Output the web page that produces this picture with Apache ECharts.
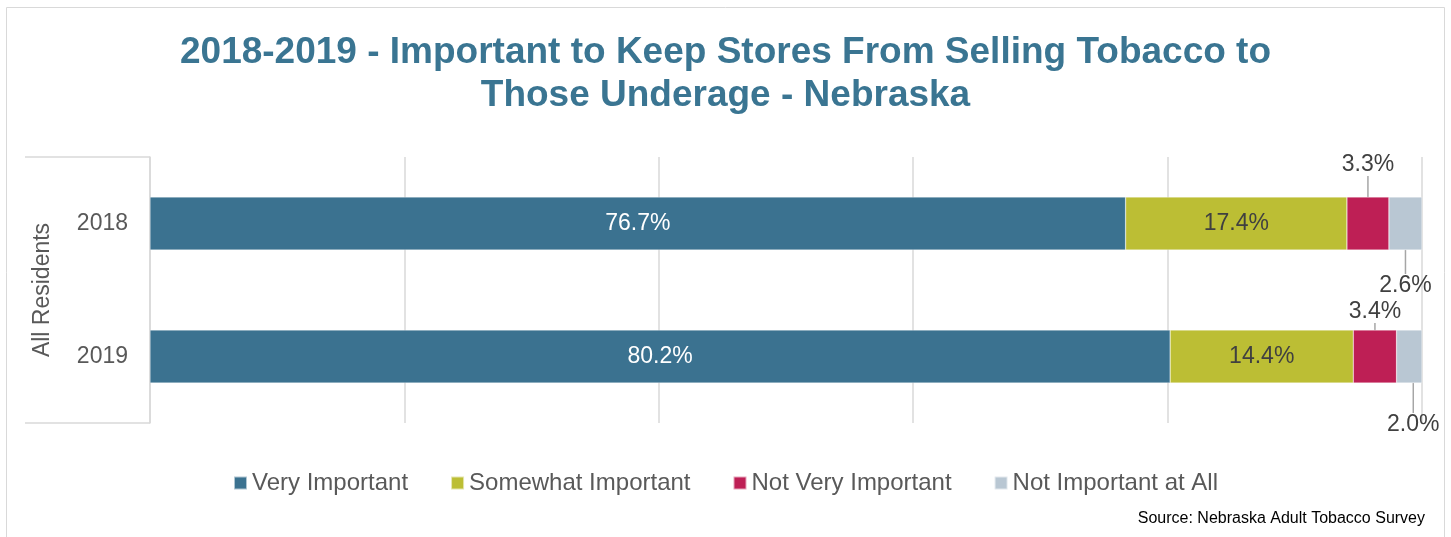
<!DOCTYPE html>
<html>
<head>
<meta charset="utf-8">
<script src="https://cdn.jsdelivr.net/npm/echarts@6/dist/echarts.min.js"></script>
<style>html,body{margin:0;padding:0;background:#fff}#c{width:1451px;height:537px}</style>
</head>
<body>
<div id="c"></div>
<script>
const years = ['2018', '2019'];
const groupLabel = ['All Residents'];
const seriesNames = ['Very Important', 'Somewhat Important', 'Not Very Important', 'Not Important at All'];
const veryImportant = [76.7, 80.2];
const somewhatImportant = [17.4, 14.4];
const notVeryImportant = [3.3, 3.4];
const notImportantAtAll = [2.6, 2.0];
const colors = ['#3b7290', '#bcbe34', '#be1f55', '#b9c7d3'];

const FONT = 'Liberation Sans, Arial, sans-serif';
const chart = echarts.init(document.getElementById('c'));

function baseSeries(name, data, color, labelColor) {
  return {
    name: name, type: 'bar', stack: 'total', yAxisIndex: 0, data: data,
    barWidth: 53,
    itemStyle: { color: color, borderColor: 'rgba(255,255,255,0.6)', borderWidth: 0.5 },
    label: {
      show: true, position: 'inside', color: labelColor,
      fontFamily: FONT, fontSize: 23,
      formatter: p => p.value.toFixed(1) + '%'
    }
  };
}

const s3 = baseSeries(seriesNames[2], notVeryImportant, colors[2], '#404040');
s3.labelLine = { show: true, lineStyle: { color: '#a6a6a6', width: 1.5 } };
s3.labelLayout = p => (p.dataIndex === 0 ? { dy: -59 } : { dy: -45 });
const s4 = baseSeries(seriesNames[3], notImportantAtAll, colors[3], '#404040');
s4.labelLine = { show: true, lineStyle: { color: '#a6a6a6', width: 1.5 } };
s4.labelLayout = p => (p.dataIndex === 0 ? { dy: 62 } : { dy: 68, dx: 4 });

chart.setOption({
  animation: false,
  color: colors,
  title: {
    text: '2018-2019 - Important to Keep Stores From Selling Tobacco to\nThose Underage - Nebraska',
    left: 'center', top: 26,
    textStyle: { fontFamily: FONT, fontSize: 37, fontWeight: 'bold', color: '#3a7592', lineHeight: 43 }
  },
  graphic: [
    { type: 'rect', silent: true, shape: { x: 6.5, y: 7.5, width: 1438, height: 540 },
      style: { fill: 'none', stroke: '#d9d9d9', lineWidth: 1 } },
    { type: 'text', right: 26, top: 511,
      style: { text: 'Source: Nebraska Adult Tobacco Survey', font: '16px ' + FONT, fill: '#000' } }
  ],
  legend: {
    top: 466, left: 'center',
    icon: 'rect', itemWidth: 13, itemHeight: 13, itemGap: 42,
    textStyle: { fontFamily: FONT, fontSize: 24, color: '#595959' },
    data: seriesNames
  },
  grid: { left: 150, right: 29, top: 157, bottom: 114, containLabel: false },
  xAxis: {
    type: 'value', min: 0, max: 100, interval: 20,
    axisLabel: { show: false }, axisLine: { show: false }, axisTick: { show: false },
    splitLine: { show: true, lineStyle: { color: '#d9d9d9', width: 1.5 } }
  },
  yAxis: [
    {
      type: 'category', data: years, inverse: true,
      axisLine: { show: false }, axisTick: { show: false },
      axisLabel: { margin: 22, fontFamily: FONT, fontSize: 23, color: '#595959' }
    },
    {
      type: 'category', data: groupLabel, position: 'left',
      axisLine: { show: true, lineStyle: { color: '#d9d9d9', width: 1.5 } },
      axisTick: { show: true, length: 125, lineStyle: { color: '#d9d9d9', width: 1.5 } },
      axisLabel: { rotate: 90, margin: 96, fontFamily: FONT, fontSize: 23, color: '#595959' }
    }
  ],
  series: [
    baseSeries(seriesNames[0], veryImportant, colors[0], '#ffffff'),
    baseSeries(seriesNames[1], somewhatImportant, colors[1], '#404040'),
    s3, s4
  ]
});
</script>
</body>
</html>
